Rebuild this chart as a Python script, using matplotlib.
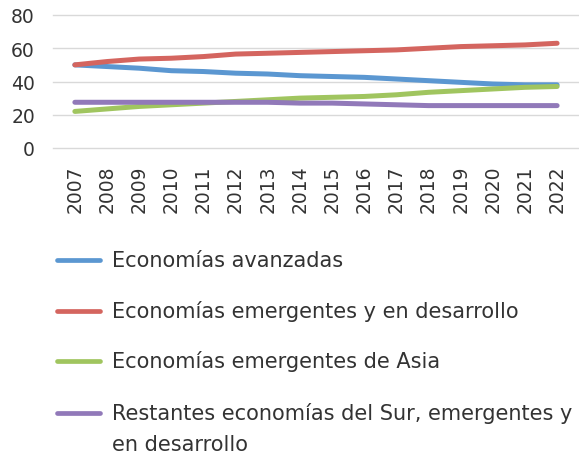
import matplotlib.pyplot as plt
from matplotlib.lines import Line2D

years = list(range(2007, 2023))

avanzadas = [50, 49, 48, 46.5, 46, 45, 44.5, 43.5, 43, 42.5, 41.5, 40.5, 39.5, 38.5, 38, 38]
emergentes = [50, 52, 53.5, 54, 55, 56.5, 57, 57.5, 58, 58.5, 59, 60, 61, 61.5, 62, 63]
asia = [22, 23.5, 25, 26, 27, 28, 29, 30, 30.5, 31, 32, 33.5, 34.5, 35.5, 36.5, 37]
restantes = [27.5, 27.5, 27.5, 27.5, 27.5, 27.5, 27.5, 27, 27, 26.5, 26, 25.5, 25.5, 25.5, 25.5, 25.5]

labels = [
    "Economías avanzadas",
    "Economías emergentes y en desarrollo",
    "Economías emergentes de Asia",
    "Restantes economías del Sur, emergentes y\nen desarrollo",
]
series = [avanzadas, emergentes, asia, restantes]
colors = ["#5b97d1", "#d4655f", "#a0c55f", "#9179b9"]

text_color = "#333333"

fig = plt.figure(figsize=(5.79, 4.56), dpi=100)
ax = fig.add_axes([53 / 579, 1 - 149 / 456, 525 / 579, 133 / 456])

x = list(range(len(years)))
for values, color in zip(series, colors):
    ax.plot(x, values, color=color, linewidth=3.6, solid_capstyle="round")

ax.set_ylim(0, 80)
ax.set_yticks([0, 20, 40, 60, 80])
ax.set_xlim(-0.68, 15.65)
ax.set_xticks(x)
ax.set_xticklabels([str(y) for y in years], rotation=90)
ax.tick_params(axis="both", length=0, labelsize=13.5, colors=text_color)
ax.tick_params(axis="x", pad=12)
ax.tick_params(axis="y", pad=13)
ax.grid(axis="y", color="#d9d9d9", linewidth=1)
for gl in ax.get_ygridlines():
    gl.set_clip_on(False)
ax.set_axisbelow(True)
for spine in ax.spines.values():
    spine.set_visible(False)

# legend drawn below the plot, one row per series
row_y = [261, 312, 362, 414]
for y_px, color, label in zip(row_y, colors, labels):
    yf = 1 - y_px / 456
    fig.add_artist(Line2D([57 / 579, 100 / 579], [yf, yf], color=color,
                          linewidth=3.4, solid_capstyle="round"))
    if "\n" in label:
        fig.text(112 / 579, yf + 11 / 456, label, fontsize=15, color=text_color,
                 va="top", linespacing=1.7)
    else:
        fig.text(112 / 579, yf, label, fontsize=15, color=text_color, va="center")

fig.savefig("out.png", dpi=100)
